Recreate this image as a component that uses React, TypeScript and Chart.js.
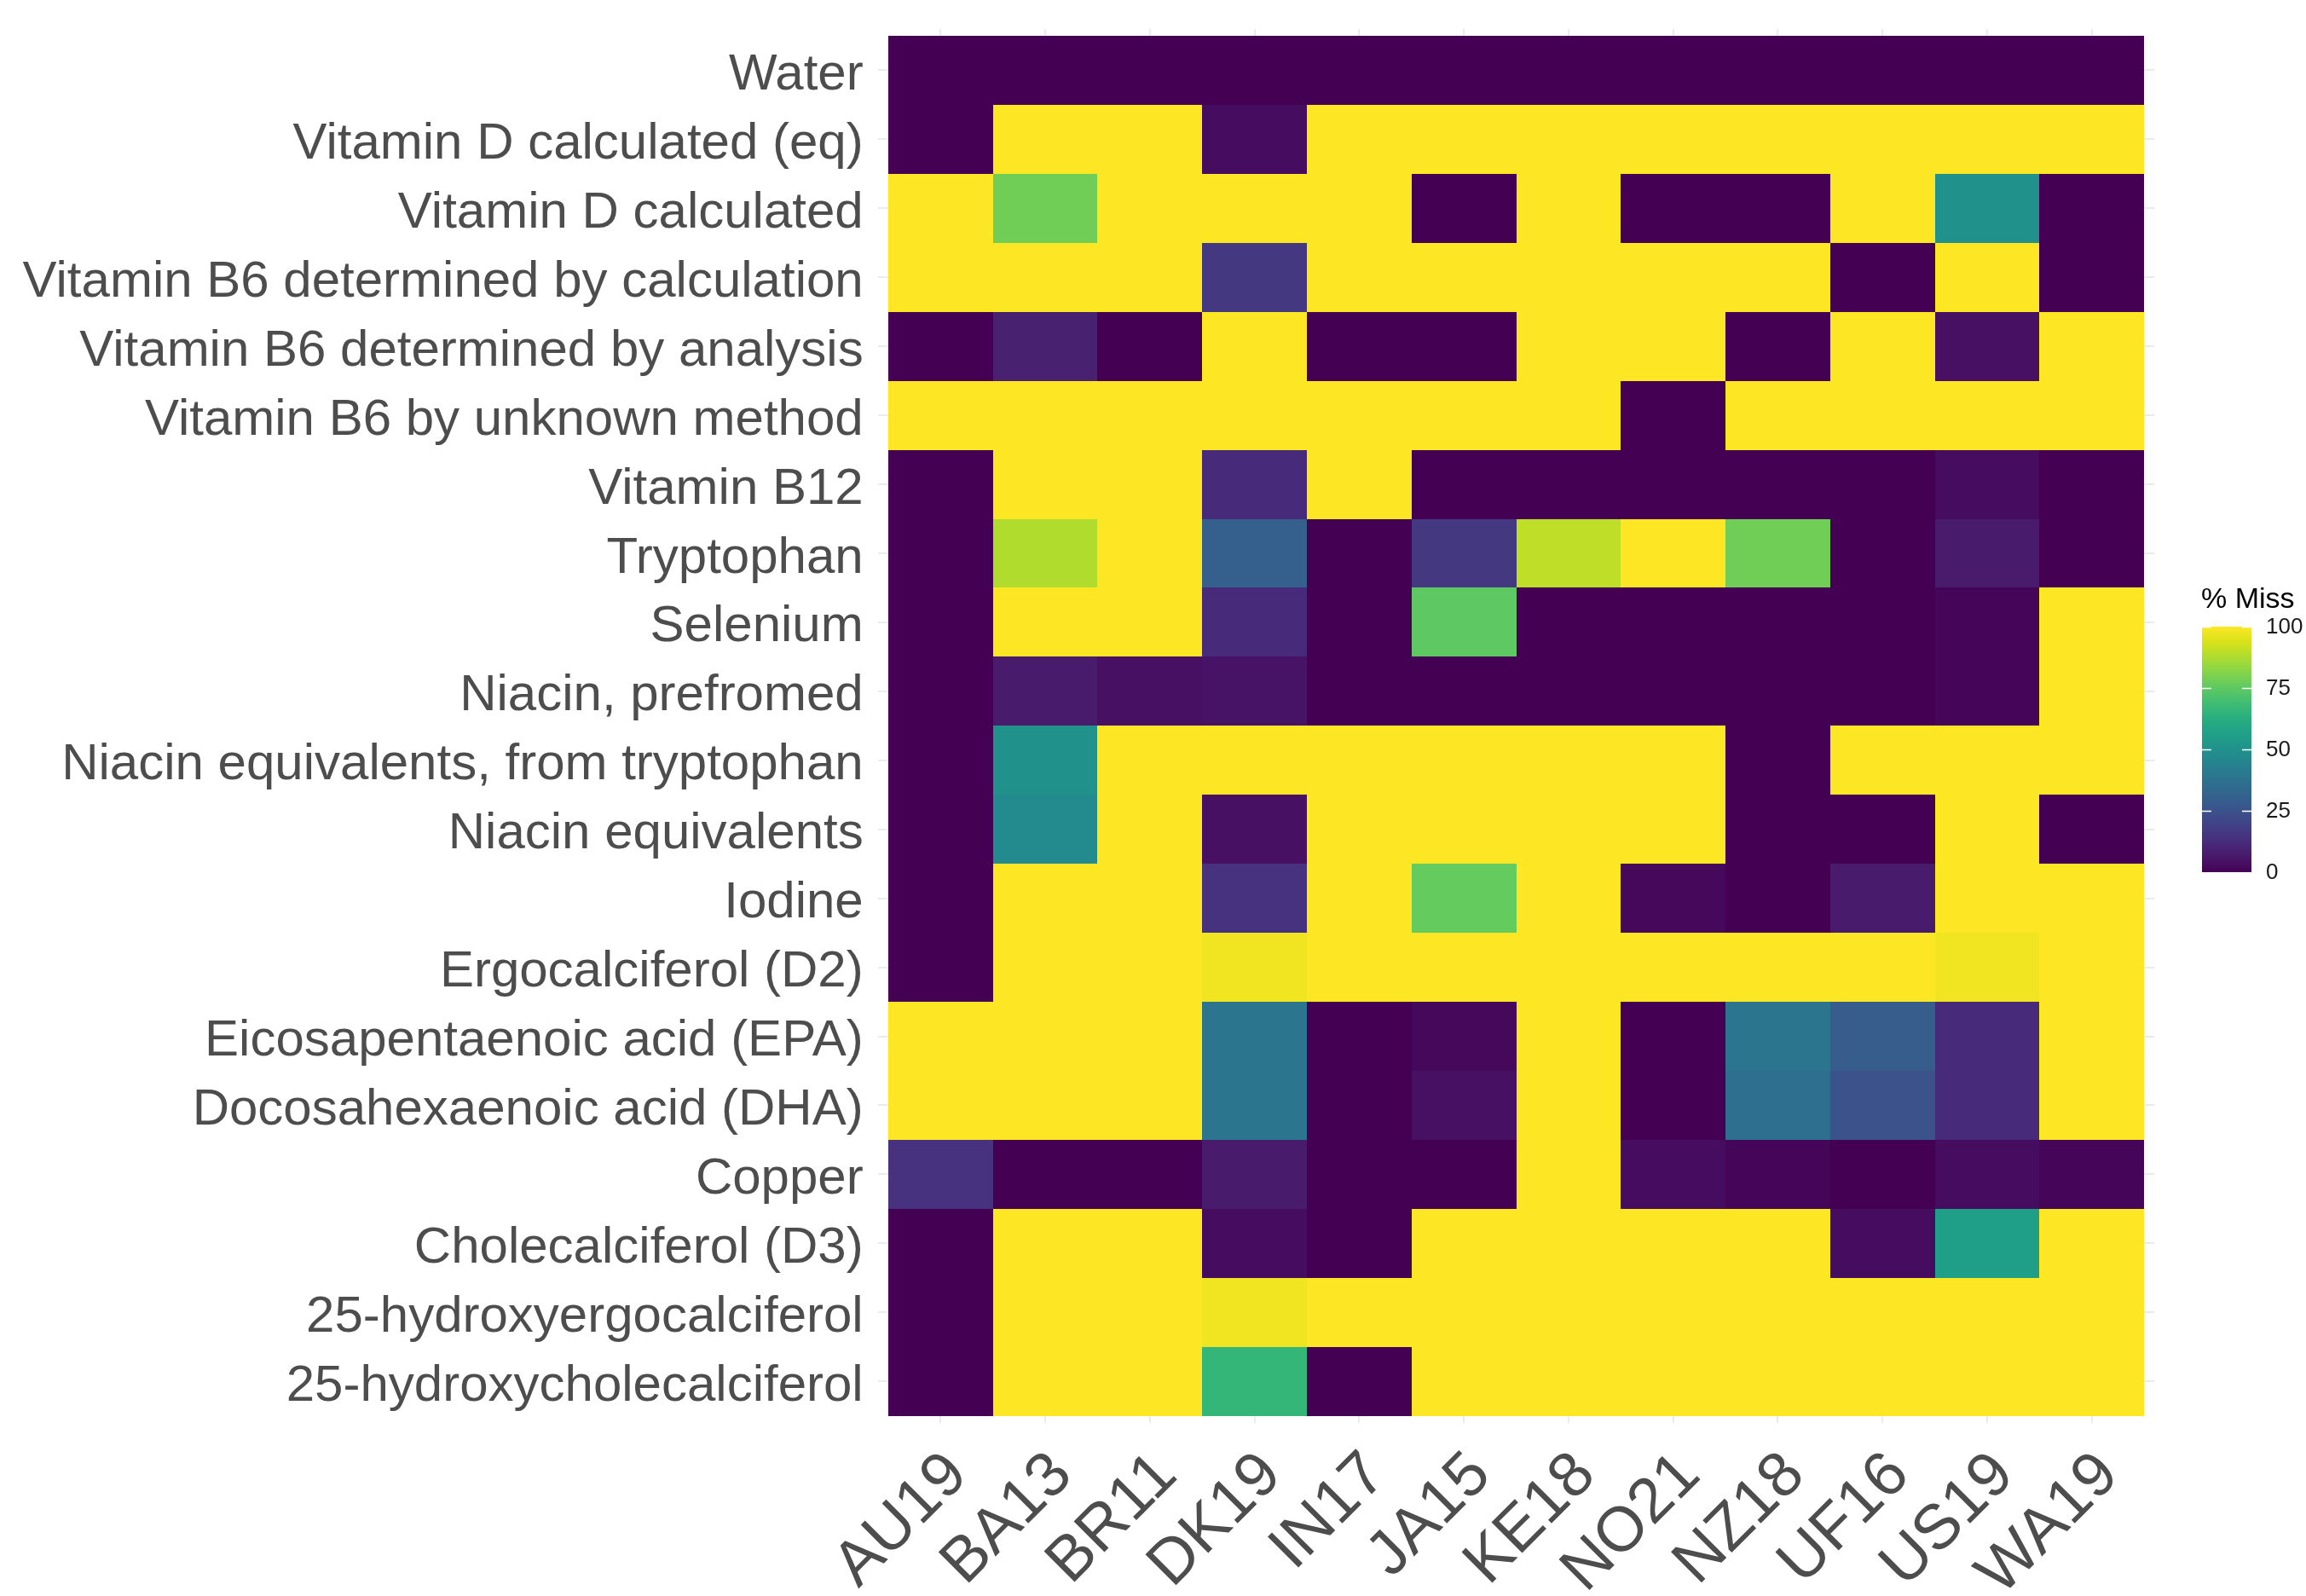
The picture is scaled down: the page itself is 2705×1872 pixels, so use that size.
import React, { useEffect, useRef } from "react";
import { Chart, registerables } from "chart.js";

Chart.register(...registerables);

// ---------- data ----------
const countries = ["AU19", "BA13", "BR11", "DK19", "IN17", "JA15", "KE18", "NO21", "NZ18", "UF16", "US19", "WA19"];

const nutrients = [
  "Water",
  "Vitamin D calculated (eq)",
  "Vitamin D calculated",
  "Vitamin B6 determined by calculation",
  "Vitamin B6 determined by analysis",
  "Vitamin B6 by unknown method",
  "Vitamin B12",
  "Tryptophan",
  "Selenium",
  "Niacin, prefromed",
  "Niacin equivalents, from tryptophan",
  "Niacin equivalents",
  "Iodine",
  "Ergocalciferol (D2)",
  "Eicosapentaenoic acid (EPA)",
  "Docosahexaenoic acid (DHA)",
  "Copper",
  "Cholecalciferol (D3)",
  "25-hydroxyergocalciferol",
  "25-hydroxycholecalciferol",
];

// % missing per country, in the order of `nutrients`
const AU19 = [0, 0, 100, 100, 0, 100, 0, 0, 0, 0, 0, 0, 0, 0, 100, 100, 14, 0, 0, 0];
const BA13 = [0, 100, 78, 100, 9, 100, 100, 88, 100, 7, 50, 47, 100, 100, 100, 100, 0, 100, 100, 100];
const BR11 = [0, 100, 100, 100, 0, 100, 100, 100, 100, 4, 100, 100, 100, 100, 100, 100, 0, 100, 100, 100];
const DK19 = [0, 3, 100, 16, 100, 100, 12, 30, 12, 5, 100, 4, 14, 98, 39, 39, 7, 3, 98, 66];
const IN17 = [0, 100, 100, 100, 0, 100, 100, 0, 0, 0, 100, 100, 100, 100, 0, 0, 0, 0, 100, 0];
const JA15 = [0, 100, 0, 100, 0, 100, 0, 16, 75, 0, 100, 100, 76, 100, 2, 4, 0, 100, 100, 100];
const KE18 = [0, 100, 100, 100, 100, 100, 0, 90, 0, 0, 100, 100, 100, 100, 100, 100, 100, 100, 100, 100];
const NO21 = [0, 100, 0, 100, 100, 0, 0, 100, 0, 0, 100, 100, 2, 100, 0, 0, 3, 100, 100, 100];
const NZ18 = [0, 100, 0, 100, 0, 100, 0, 78, 0, 0, 0, 0, 0, 100, 39, 36, 1, 100, 100, 100];
const UF16 = [0, 100, 100, 0, 100, 100, 0, 0, 0, 0, 100, 0, 7, 100, 29, 25, 0, 3, 100, 100];
const US19 = [0, 100, 50, 100, 4, 100, 3, 7, 1, 1, 100, 100, 100, 98, 12, 12, 3, 56, 100, 100];
const WA19 = [0, 100, 0, 0, 100, 100, 0, 0, 100, 100, 100, 0, 100, 100, 100, 100, 1, 100, 100, 100];

const missByCountry = [AU19, BA13, BR11, DK19, IN17, JA15, KE18, NO21, NZ18, UF16, US19, WA19];

const legendTicks = [0, 25, 50, 75, 100];
const legendTitle = "% Miss";

// ---------- colour scale (viridis) ----------
const viridisStops = [
  "#440154", "#48186a", "#472d7b", "#424086", "#3b528b", "#33638d", "#2c728e", "#26828e",
  "#21918c", "#1fa088", "#28ae80", "#3fbc73", "#5ec962", "#84d44b", "#addc30", "#d8e219", "#fde725",
];

function hexToRgb(h: string) {
  return [parseInt(h.slice(1, 3), 16), parseInt(h.slice(3, 5), 16), parseInt(h.slice(5, 7), 16)];
}
const viridisRgb = viridisStops.map(hexToRgb);

function viridis(t: number) {
  const c = Math.max(0, Math.min(1, t)) * (viridisRgb.length - 1);
  const i = Math.min(Math.floor(c), viridisRgb.length - 2);
  const f = c - i;
  const a = viridisRgb[i];
  const b = viridisRgb[i + 1];
  const r = Math.round(a[0] + (b[0] - a[0]) * f);
  const g = Math.round(a[1] + (b[1] - a[1]) * f);
  const bl = Math.round(a[2] + (b[2] - a[2]) * f);
  return `rgb(${r},${g},${bl})`;
}

// ---------- styling ----------
const FONT = "'Liberation Sans', Arial, Helvetica, sans-serif";
const AXIS_TEXT = "#4d4d4d";
const GRID = "#ebebeb";

const LEGEND = {
  barLeft: 2583,
  barWidth: 58,
  barTop: 735,
  barBottom: 1023,
  tickLen: 11,
  labelX: 2658,
  titleX: 2582,
  titleBaseline: 713,
};

const tilePlugin = {
  id: "heatTiles",
  beforeDatasetsDraw(chart: any) {
    const { ctx } = chart;
    const xs = chart.scales.x;
    const ys = chart.scales.y;
    const pts = chart.data.datasets[0].data as { x: number; y: number; v: number }[];
    ctx.save();
    for (const p of pts) {
      const l = Math.round(xs.getPixelForValue(p.x - 0.5));
      const r = Math.round(xs.getPixelForValue(p.x + 0.5));
      const t = Math.round(ys.getPixelForValue(p.y - 0.5));
      const b = Math.round(ys.getPixelForValue(p.y + 0.5));
      ctx.fillStyle = viridis(p.v / 100);
      ctx.fillRect(Math.min(l, r), Math.min(t, b), Math.abs(r - l), Math.abs(b - t));
    }
    ctx.restore();
  },
};

const legendPlugin = {
  id: "colorbarLegend",
  afterDraw(chart: any) {
    const { ctx } = chart;
    const L = LEGEND;
    const vmin = legendTicks[0];
    const vmax = legendTicks[legendTicks.length - 1];
    const yFor = (v: number) => L.barBottom - ((v - vmin) / (vmax - vmin)) * (L.barBottom - L.barTop);
    ctx.save();
    const grad = ctx.createLinearGradient(0, L.barBottom, 0, L.barTop);
    viridisStops.forEach((c, i) => grad.addColorStop(i / (viridisStops.length - 1), c));
    ctx.fillStyle = grad;
    ctx.fillRect(L.barLeft, L.barTop, L.barWidth, L.barBottom - L.barTop);

    ctx.strokeStyle = "#ffffff";
    ctx.lineWidth = 1.6;
    legendTicks.forEach((v) => {
      if (v === vmin) return;
      const y = Math.round(yFor(v)) + 0.5;
      ctx.beginPath();
      ctx.moveTo(L.barLeft, y);
      ctx.lineTo(L.barLeft + L.tickLen, y);
      ctx.moveTo(L.barLeft + L.barWidth - L.tickLen, y);
      ctx.lineTo(L.barLeft + L.barWidth, y);
      ctx.stroke();
    });

    ctx.fillStyle = "#1a1a1a";
    ctx.font = `26px ${FONT}`;
    ctx.textAlign = "left";
    ctx.textBaseline = "middle";
    legendTicks.forEach((v) => ctx.fillText(String(v), L.labelX, yFor(v) + 1));

    ctx.fillStyle = "#000000";
    ctx.font = `34px ${FONT}`;
    ctx.textBaseline = "alphabetic";
    ctx.fillText(legendTitle, L.titleX, L.titleBaseline);
    ctx.restore();
  },
};

export default function App() {
  const ref = useRef<HTMLCanvasElement | null>(null);

  useEffect(() => {
    if (!ref.current) return;
    const points: { x: number; y: number; v: number }[] = [];
    missByCountry.forEach((col, ci) => {
      col.forEach((v, ri) => points.push({ x: ci, y: ri, v }));
    });

    const chart = new Chart(ref.current, {
      type: "scatter",
      data: {
        datasets: [
          {
            label: legendTitle,
            data: points as any,
            pointRadius: 0,
            pointHoverRadius: 0,
          },
        ],
      },
      options: {
        animation: false,
        responsive: false,
        maintainAspectRatio: false,
        events: [],
        layout: { padding: { left: 0, right: 177.7, top: 33.9, bottom: 0 } },
        plugins: {
          legend: { display: false },
          tooltip: { enabled: false },
        },
        scales: {
          x: {
            type: "linear",
            position: "bottom",
            min: -0.6,
            max: countries.length - 0.4,
            afterBuildTicks: (s: any) => {
              s.ticks = countries.map((_, i) => ({ value: i }));
            },
            afterFit: (s: any) => {
              s.height = 203.2;
              s.paddingLeft = 0;
              s.paddingRight = 0;
            },
            border: { display: false },
            grid: { color: GRID, lineWidth: 2, drawTicks: false },
            ticks: {
              autoSkip: false,
              minRotation: 45,
              maxRotation: 45,
              padding: 18,
              labelOffset: 20,
              color: AXIS_TEXT,
              font: { family: FONT, size: 74 },
              callback: (v: any) => countries[Math.round(Number(v))] ?? "",
            },
          },
          y: {
            type: "linear",
            position: "left",
            reverse: true,
            min: -0.6,
            max: nutrients.length - 0.4,
            afterBuildTicks: (s: any) => {
              s.ticks = nutrients.map((_, i) => ({ value: i }));
            },
            afterFit: (s: any) => {
              s.width = 1029.7;
              s.paddingTop = 0;
              s.paddingBottom = 0;
            },
            border: { display: false },
            grid: { color: GRID, lineWidth: 2, drawTicks: false },
            ticks: {
              autoSkip: false,
              padding: 17,
              labelOffset: 6,
              color: AXIS_TEXT,
              font: { family: FONT, size: 60 },
              callback: (v: any) => nutrients[Math.round(Number(v))] ?? "",
            },
          },
        },
      },
      plugins: [tilePlugin, legendPlugin],
    });
    return () => chart.destroy();
  }, []);

  return (
    <div style={{ position: "fixed", left: 0, top: 0, width: 2705, height: 1872, background: "#ffffff" }}>
      <canvas ref={ref} width={2705} height={1872} style={{ width: 2705, height: 1872, display: "block" }} />
    </div>
  );
}
